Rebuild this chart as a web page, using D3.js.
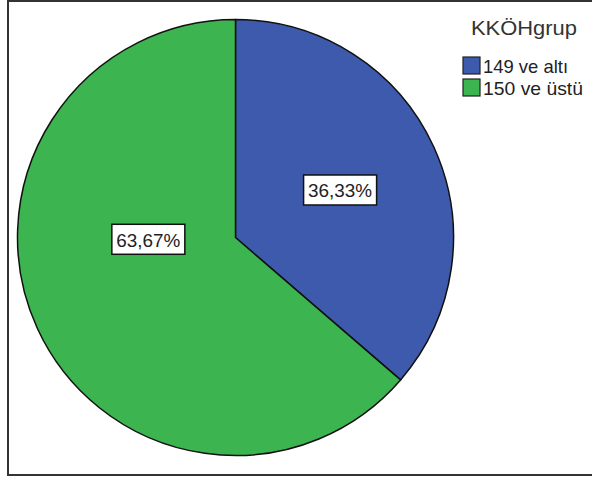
<!DOCTYPE html>
<html>
<head>
<meta charset="utf-8">
<script src="https://cdn.jsdelivr.net/npm/d3@7"></script>
<style>
  html, body { margin: 0; padding: 0; background: #fff; }
  svg { display: block; font-family: "Liberation Sans", Arial, sans-serif; }
</style>
</head>
<body>
<svg id="chart" width="592" height="479"></svg>
<script>
// Group names, shares (%) and colours
const categories = ["149 ve altı", "150 ve üstü"];
const values = [36.33, 63.67];
const colors = ["#3e5aac", "#3cb44f"];
const legendTitle = "KKÖHgrup";

// Where each percentage box sits: angle (deg, clockwise from 12 o'clock) and radius fraction
const labelAngles = [65.8, 268.5];
const labelRadii = [0.526, 0.40];

const svg = d3.select("#chart");

// Outer frame (its right edge runs past the canvas)
svg.append("rect")
  .attr("x", 8).attr("y", 1)
  .attr("width", 700).attr("height", 474)
  .attr("fill", "none")
  .attr("stroke", "#333")
  .attr("stroke-width", 2);

const cx = 235.5, cy = 237.5, R = 218;
const g = svg.append("g").attr("transform", `translate(${cx},${cy})`);

const pie = d3.pie().sort(null).value(d => d)(values);
const arc = d3.arc().innerRadius(0).outerRadius(R);

g.selectAll("path.slice")
  .data(pie)
  .enter().append("path")
  .attr("class", "slice")
  .attr("d", arc)
  .attr("fill", (d, i) => colors[i])
  .attr("stroke", "#111")
  .attr("stroke-width", 1.5)
  .attr("stroke-linejoin", "round");

const fmt = v => d3.format(".2f")(v).replace(".", ",") + "%";

const labels = g.selectAll("g.lbl")
  .data(pie)
  .enter().append("g")
  .attr("class", "lbl")
  .attr("transform", (d, i) => {
    const a = labelAngles[i] * Math.PI / 180;
    const r = labelRadii[i] * R;
    return `translate(${r * Math.sin(a)},${-r * Math.cos(a)})`;
  });

labels.append("rect")
  .attr("x", -36.5).attr("y", -15.5)
  .attr("width", 73).attr("height", 30)
  .attr("fill", "#fff")
  .attr("stroke", "#111")
  .attr("stroke-width", 1.5);

labels.append("text")
  .attr("text-anchor", "middle")
  .attr("y", 7)
  .attr("font-size", 19)
  .attr("fill", "#222")
  .attr("textLength", 64)
  .attr("lengthAdjust", "spacingAndGlyphs")
  .text(d => fmt(d.data));

// Legend
const lg = svg.append("g");
lg.append("text")
  .attr("x", 471).attr("y", 35)
  .attr("font-size", 21)
  .attr("fill", "#333")
  .attr("textLength", 106)
  .attr("lengthAdjust", "spacingAndGlyphs")
  .text(legendTitle);

const items = lg.selectAll("g.item")
  .data(categories)
  .enter().append("g")
  .attr("class", "item")
  .attr("transform", (d, i) => `translate(463,${57 + i * 22})`);

items.append("rect")
  .attr("width", 17).attr("height", 17)
  .attr("fill", (d, i) => colors[i])
  .attr("stroke", "#222")
  .attr("stroke-width", 1.2);

items.append("text")
  .attr("x", 20).attr("y", 16)
  .attr("font-size", 19)
  .attr("fill", "#222")
  .attr("textLength", (d, i) => [85, 100][i])
  .attr("lengthAdjust", "spacingAndGlyphs")
  .text(d => d);
</script>
</body>
</html>
